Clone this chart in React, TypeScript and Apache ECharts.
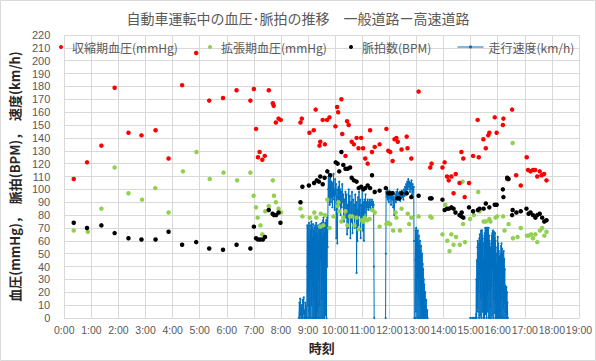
import React, { useEffect, useRef } from "react";
import * as echarts from "echarts";

// ---- data (hour of day, value) ----
const hourTicks = [0, 1, 2, 3, 4, 5, 6, 7, 8, 9, 10, 11, 12, 13, 14, 15, 16, 17, 18, 19];

const systolic: number[][] = [
  [0.35,108],[0.84,121],[1.37,134],[1.86,179],[2.37,144],[2.85,142],[3.37,146],[3.85,124],[4.35,181],[4.87,206],[5.35,169],[5.86,171],[6.36,177],[6.87,169],
  [7.0,178],[7.08,147],[7.15,125],[7.21,129],[7.31,123],[7.40,126],[7.55,177],[7.70,167],[7.73,165],[7.81,152],[7.91,155],[7.99,154],
  [8.72,152],[8.77,155],[9.05,144],[9.21,146],[9.28,162],[9.42,134],[9.45,137],[9.54,154],[9.62,135],[9.70,154],[9.79,156],[10.01,149],[10.07,164],[10.11,160],[10.23,170],[10.26,143],[10.38,126],[10.44,153],[10.50,150],[10.61,137],[10.69,135],[10.79,140],[10.86,132],[10.96,140],[11.03,132],[11.11,124],[11.20,120],[11.29,146],[11.36,129],[11.46,133],[11.64,135],[11.89,147],[11.96,130],[12.03,129],[12.12,122],[12.19,139],[12.26,140],[12.31,137],[12.45,131],[12.64,141],[12.67,132],[12.81,124],[13.08,176],[13.51,117],[13.56,120],
  [13.96,117],[14.04,121],[14.13,110],[14.19,107],[14.29,110],[14.37,97],[14.45,112],[14.59,105],[14.66,129],[14.73,124],[14.78,94],[14.94,105],[15.09,126],[15.26,154],[15.30,125],[15.47,139],[15.56,132],[15.65,142],[15.69,144],[15.89,156],[15.96,144],[16.19,150],[16.21,155],[16.35,108],[16.53,162],[16.68,111],[16.85,103],[17.07,125],[17.12,115],[17.21,114],[17.30,115],[17.38,115],[17.46,110],[17.55,114],[17.62,111],[17.71,112],[17.80,107]
];

const diastolic: number[][] = [
  [0.35,68],[0.87,67],[1.37,85],[1.86,117],[2.37,97],[2.87,92],[3.36,101],[3.85,82],[4.38,114],[4.88,129],[5.37,108],[5.88,113],[6.38,107],[6.87,113],
  [6.99,95],[7.08,86],[7.14,78],[7.24,72],[7.31,65],[7.42,83],[7.55,87],[7.70,107],[7.74,95],[7.81,90],[7.91,85],[8.00,82],
  [8.72,85],[8.79,79],[9.06,78],[9.23,82],[9.30,78],[9.45,71],[9.47,81],[9.56,72],[9.62,80],[9.71,92],[9.79,70],[9.94,79],[10.09,87],[10.12,90],[10.15,83],[10.23,75],[10.30,78],[10.38,83],[10.45,72],[10.55,79],[10.63,79],[10.71,72],[10.79,78],[10.87,69],[10.98,76],[11.04,75],[11.09,78],[11.18,76],[11.27,77],[11.37,84],[11.46,82],[11.64,71],[11.89,73],[11.95,74],[12.03,73],[12.14,68],[12.23,82],[12.26,78],[12.39,68],[12.45,85],[12.68,81],[12.73,73],[12.81,78],[13.08,79],[13.51,79],[13.56,78],
  [13.96,65],[14.06,88],[14.14,60],[14.22,52],[14.29,65],[14.37,57],[14.46,63],[14.60,57],[14.70,106],[14.72,73],[14.79,59],[14.98,77],[15.12,80],[15.28,98],[15.33,83],[15.48,75],[15.56,75],[15.69,77],[15.73,75],[15.92,78],[15.98,79],[16.20,79],[16.25,68],[16.40,73],[16.55,136],[16.56,62],[16.73,63],[16.85,70],[17.08,64],[17.14,64],[17.23,65],[17.30,62],[17.39,65],[17.46,59],[17.56,68],[17.64,70],[17.72,64],[17.80,67]
];

const pulse: number[][] = [
  [0.35,74],[0.84,70],[1.37,72],[1.86,66],[2.37,62],[2.85,61],[3.37,61],[3.85,67],[4.35,57],[4.87,59],[5.35,54],[5.86,53],[6.36,57],[6.87,54],
  [7.0,71],[7.08,62],[7.15,61],[7.24,61],[7.33,61],[7.41,63],[7.55,84],[7.69,81],[7.74,80],[7.82,80],[7.91,82],[7.98,74],
  [8.72,90],[8.79,102],[9.03,103],[9.22,105],[9.32,107],[9.40,106],[9.45,110],[9.54,104],[9.61,109],[9.71,114],[9.82,111],[10.02,121],[10.09,120],[10.15,114],[10.23,129],[10.30,119],[10.38,116],[10.46,116],[10.55,117],[10.61,109],[10.69,107],[10.79,106],[10.87,101],[10.96,102],[11.04,100],[11.11,101],[11.20,103],[11.29,101],[11.36,111],[11.46,98],[11.64,99],[11.87,101],[11.96,97],[12.03,97],[12.12,97],[12.30,93],[12.36,93],[12.45,97],[12.64,97],[12.81,94],[13.08,95],[13.50,93],[13.56,93],
  [13.96,92],[14.04,84],[14.13,85],[14.20,85],[14.29,86],[14.37,85],[14.44,82],[14.59,80],[14.66,79],[14.67,82],[14.73,78],[14.94,86],[15.09,83],[15.27,84],[15.33,85],[15.48,85],[15.56,89],[15.69,86],[15.89,88],[15.96,88],[16.19,100],[16.21,94],[16.35,109],[16.40,108],[16.53,80],[16.55,84],[16.69,82],[16.85,83],[17.06,85],[17.14,81],[17.21,82],[17.30,80],[17.39,78],[17.46,80],[17.55,81],[17.64,78],[17.72,75],[17.80,76]
];

const speed: (number | null)[][] = [
  [8.66,0],[8.68,12],[8.69,0],[8.71,15],[8.72,2],[8.74,10],[8.75,0],[8.77,8],[8.79,0],[8.80,14],[8.82,3],[8.84,16],[8.85,0],[8.87,6],[8.88,0],[8.90,12],[8.92,0],[8.93,9],[8.95,0],
  [8.96,40],[8.97,72],[8.98,10],[8.99,70],[9.00,0],[9.01,65],[9.02,20],[9.03,74],[9.04,5],[9.05,60],[9.06,0],[9.07,72],[9.08,30],[9.09,68],[9.10,0],[9.11,55],[9.12,75],[9.13,10],[9.14,70],[9.15,0],[9.16,62],[9.17,25],[9.18,73],[9.19,0],[9.20,68],[9.21,15],[9.22,58],[9.23,0],[9.24,70],[9.25,40],[9.26,72],[9.27,0],[9.28,66],[9.29,20],[9.30,74],[9.31,0],[9.32,50],[9.33,70],[9.34,5],[9.35,65],[9.36,0],[9.37,72],[9.38,30],[9.39,60],[9.40,0],[9.41,70],[9.42,10],[9.43,68],[9.44,0],[9.45,73],[9.46,45],[9.47,66],[9.48,0],[9.49,70],[9.50,15],[9.51,74],[9.52,0],[9.53,62],[9.54,28],[9.55,76],[9.56,0],[9.57,78],[9.58,20],[9.59,70],[9.60,0],[9.61,66],[9.62,35],[9.63,74],[9.64,2],[9.65,70],[9.66,18],[9.67,76],[9.68,0],[9.69,72],[9.70,40],[9.71,78],[9.72,55],
  [9.74,100],[9.75,110],[9.76,92],[9.77,112],[9.78,98],[9.79,108],[9.80,88],[9.81,104],[9.82,95],[9.83,110],[9.84,90],[9.86,106],[9.87,94],[9.88,100],[9.90,86],[9.91,105],[9.93,95],[9.94,112],[9.96,92],[9.97,100],[9.98,84],[10.00,108],[10.01,96],[10.03,104],[10.04,62],[10.05,90],[10.07,100],[10.08,58],[10.10,94],[10.12,102],[10.13,88],[10.15,106],[10.17,92],[10.19,100],[10.20,80],[10.22,98],[10.24,86],[10.26,104],[10.28,90],[10.30,96],[10.32,75],[10.34,92],[10.36,84],[10.38,98],[10.40,78],[10.42,96],[10.44,65],[10.46,88],[10.48,70],[10.50,100],[10.52,82],[10.54,95],[10.56,62],[10.58,90],[10.60,75],[10.62,98],[10.64,66],[10.66,92],[10.68,80],[10.70,88],[10.72,70],[10.74,96],[10.76,78],[10.78,90],[10.79,35],[10.80,84],[10.82,60],[10.84,94],[10.86,72],[10.88,98],[10.90,80],[10.92,92],[10.94,62],[10.96,88],[10.98,75],[11.00,100],[11.02,68],[11.04,90],[11.06,60],[11.08,92],[11.10,82],[11.12,96],[11.14,78],[11.16,90],[11.18,86],[11.20,92],[11.22,84],[11.24,90],[11.26,86],[11.28,92],[11.30,84],[11.32,90],[11.34,88],[11.36,92],[11.38,86],[11.40,90],[11.42,88],[11.43,40],[11.44,0],
  [11.60,null],
  [11.86,0],[11.87,50],[11.88,98],[11.90,94],[11.92,100],[11.94,92],[11.96,97],[11.98,90],[12.00,99],[12.02,93],[12.04,96],[12.06,88],[12.08,95],[12.10,92],[12.12,98],[12.14,86],[12.16,94],[12.18,80],[12.20,92],[12.22,96],[12.24,90],[12.26,98],[12.28,93],[12.30,100],[12.32,94],[12.34,97],[12.36,92],[12.38,98],[12.40,91],[12.42,96],[12.44,93],[12.46,99],[12.48,94],[12.50,97],[12.52,92],[12.54,100],[12.56,95],[12.58,102],[12.60,96],[12.62,104],[12.64,98],[12.66,106],[12.68,100],[12.70,108],[12.72,102],[12.74,106],[12.76,98],[12.78,105],[12.80,100],[12.82,107],[12.84,96],[12.86,104],[12.88,98],[12.90,102],[12.91,60],[12.92,0],
  [12.95,0],[12.96,45],[12.97,68],[12.98,5],[12.99,70],[13.00,20],[13.01,66],[13.02,0],[13.03,62],[13.04,30],[13.05,68],[13.06,0],[13.07,58],[13.08,15],[13.09,64],[13.10,0],[13.11,55],[13.12,25],[13.13,60],[13.14,0],[13.15,52],[13.16,10],[13.17,56],[13.18,0],[13.19,48],[13.20,20],[13.21,50],[13.22,0],[13.23,42],[13.24,5],[13.25,38],[13.26,0],[13.27,30],[13.28,8],[13.29,26],[13.30,0],[13.32,20],[13.34,0],[13.36,14],[13.38,0],[13.40,6],[13.41,0],
  [14.00,null],
  [14.98,0],[15.05,0],[15.10,0],[15.15,0],[15.18,0],[15.20,3],[15.21,30],[15.22,0],[15.23,45],[15.24,8],[15.25,55],[15.26,60],[15.27,5],[15.28,50],[15.29,20],[15.30,58],[15.31,0],[15.32,62],[15.33,30],[15.34,65],[15.35,2],[15.36,60],[15.37,15],[15.38,68],[15.39,0],[15.40,66],[15.41,35],[15.42,68],[15.43,5],[15.44,64],[15.45,20],[15.46,58],[15.47,0],[15.48,45],[15.49,10],[15.50,62],[15.51,0],[15.52,66],[15.53,28],[15.54,70],[15.55,3],[15.56,68],[15.57,40],[15.58,70],[15.59,0],[15.60,65],[15.61,18],[15.62,70],[15.63,5],[15.64,67],[15.65,32],[15.66,70],[15.67,0],[15.68,64],[15.69,22],[15.70,60],[15.71,0],[15.72,50],[15.73,8],[15.74,55],[15.75,0],[15.76,58],[15.77,25],[15.78,64],[15.79,2],[15.80,66],[15.81,38],[15.82,68],[15.83,0],[15.84,65],[15.85,15],[15.86,67],[15.87,4],[15.88,62],[15.89,30],[15.90,66],[15.91,0],[15.92,60],[15.93,12],[15.94,50],[15.95,0],[15.96,42],[15.97,6],[15.98,55],[15.99,0],[16.00,63],[16.01,20],[16.02,58],[16.03,0],[16.04,52],[16.05,10],[16.06,48],[16.07,0],[16.08,40],[16.09,5],[16.10,50],[16.11,0],[16.12,56],[16.13,15],[16.14,58],[16.15,0],[16.16,54],[16.17,22],[16.18,50],[16.19,0],[16.20,45],[16.21,8],[16.22,52],[16.23,0],[16.24,46],[16.25,12],[16.26,38],[16.27,0],[16.28,25],[16.29,5],[16.30,22],[16.31,0],[16.32,24],[16.33,3],[16.34,20],[16.35,0],[16.36,12],[16.37,0]
];

const seriesNames = ["収縮期血圧(mmHg)", "拡張期血圧(mmHg)", "脈拍数(BPM)", "走行速度(km/h)"];
const titleText = "自動車運転中の血圧･脈拍の推移　一般道路ー高速道路";
const xAxisTitle = "時刻";
const yAxisTitle = "血圧(mmHg)，  脈拍(BPM)，  速度(km/h)";

const FONT = "'Noto Sans CJK JP', 'Noto Sans', sans-serif";
const GREY = "#595959";

export default function App() {
  const ref = useRef<HTMLDivElement>(null);
  useEffect(() => {
    if (!ref.current) return;
    const chart = echarts.init(ref.current, undefined, { renderer: "svg" });
    const legendCommon = {
      top: 36,
      itemHeight: 4,
      itemGap: 0,
      textStyle: { fontSize: 12, color: GREY, fontFamily: FONT },
      selectedMode: false,
    };
    chart.setOption({
      animation: false,
      backgroundColor: "#ffffff",
      textStyle: { fontFamily: FONT },
      title: {
        text: titleText,
        left: "center",
        top: 6,
        textStyle: { fontSize: 14, fontWeight: "normal", color: GREY, fontFamily: FONT },
      },
      legend: [
        { ...legendCommon, left: 54, itemWidth: 12, icon: "circle", data: [seriesNames[0]] },
        { ...legendCommon, left: 203, itemWidth: 12, icon: "circle", data: [seriesNames[1]] },
        { ...legendCommon, left: 344, itemWidth: 12, icon: "circle", data: [seriesNames[2]] },
        {
          ...legendCommon,
          left: 452,
          itemWidth: 26,
          itemHeight: 4,
          lineStyle: { width: 1 },
          data: [seriesNames[3]],
        },
      ],
      grid: { left: 61, right: 17, top: 35, bottom: 43, containLabel: false },
      xAxis: {
        type: "value",
        min: hourTicks[0],
        max: hourTicks[hourTicks.length - 1],
        interval: 1,
        name: xAxisTitle,
        nameLocation: "middle",
        nameGap: 23,
        nameTextStyle: { fontSize: 13, fontWeight: "bold", color: "#262626", fontFamily: FONT },
        axisLine: { lineStyle: { color: "#d9d9d9" } },
        axisTick: { show: false },
        axisLabel: {
          color: GREY,
          fontSize: 10.5,
          margin: 6,
          showMinLabel: true,
          showMaxLabel: true,
          hideOverlap: false,
          fontFamily: "'Liberation Sans', Arial, sans-serif",
          formatter: (v: number) => `${v}:00`,
        },
        splitLine: { show: true, lineStyle: { color: "#d9d9d9", width: 1 } },
      },
      yAxis: {
        type: "value",
        min: 0,
        max: 220,
        interval: 10,
        name: yAxisTitle,
        nameLocation: "middle",
        nameRotate: 90,
        nameGap: 32,
        nameTextStyle: { fontSize: 13, fontWeight: "bold", color: "#262626", fontFamily: FONT },
        axisLine: { show: false },
        axisTick: { show: false },
        axisLabel: {
          color: GREY,
          fontSize: 11,
          margin: 14,
          fontFamily: "'Liberation Sans', Arial, sans-serif",
        },
        splitLine: { show: true, lineStyle: { color: "#d9d9d9", width: 1 } },
      },
      series: [
        {
          name: seriesNames[3],
          type: "line",
          data: speed,
          connectNulls: false,
          showSymbol: true,
          showAllSymbol: true,
          symbol: "circle",
          symbolSize: 2,
          color: "#0070C0",
          itemStyle: { color: "#0070C0" },
          lineStyle: { color: "#0070C0", width: 1 },
          z: 1,
        },
        {
          name: seriesNames[0],
          type: "scatter",
          data: systolic,
          symbolSize: 4.5,
          itemStyle: { color: "#FF0000", opacity: 1 },
          z: 3,
        },
        {
          name: seriesNames[1],
          type: "scatter",
          data: diastolic,
          symbolSize: 4.5,
          itemStyle: { color: "#92D050", opacity: 1 },
          z: 2,
        },
        {
          name: seriesNames[2],
          type: "scatter",
          data: pulse,
          symbolSize: 4.5,
          itemStyle: { color: "#000000", opacity: 1 },
          z: 4,
        },
      ],
      graphic: [
        {
          type: "rect",
          shape: { x: 0.5, y: 0.5, width: 595, height: 360 },
          style: { fill: "none", stroke: "#d9d9d9", lineWidth: 1 },
          silent: true,
        },
      ],
    });
    return () => chart.dispose();
  }, []);
  return (
    <div
      ref={ref}
      style={{ position: "absolute", left: 0, top: 0, width: 596, height: 361 }}
    />
  );
}
